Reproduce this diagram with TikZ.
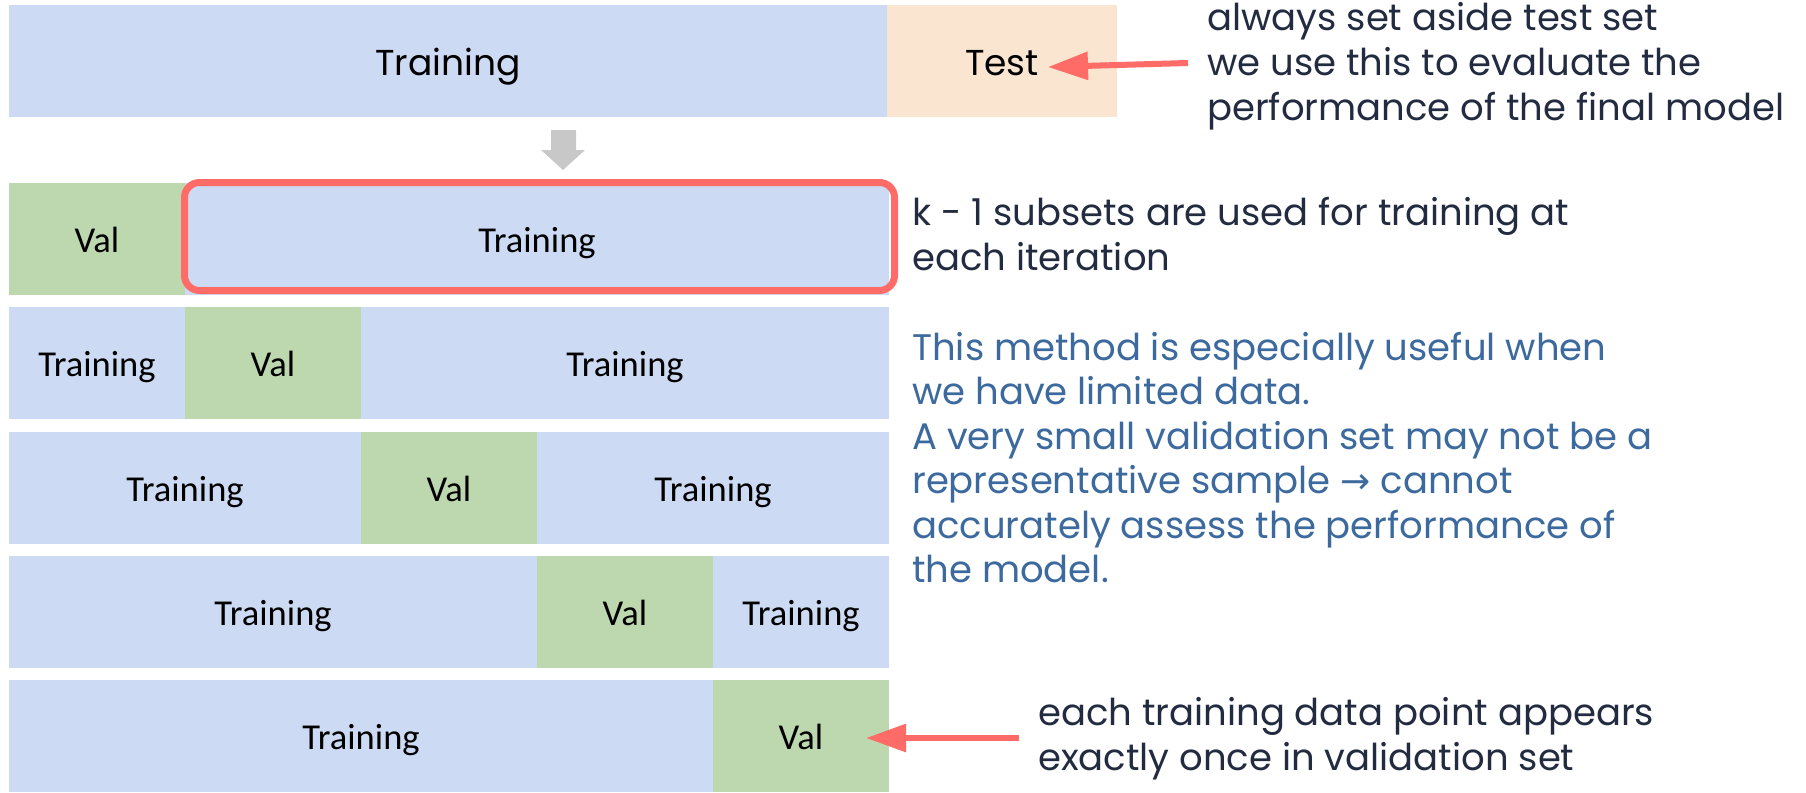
\documentclass[tikz,border=0pt]{standalone}
\usepackage{fontspec}
\newfontfamily\popfont{Poppins}
\newfontfamily\carlfont{Carlito}
\newfontfamily\djvfont{DejaVu Sans}
\usetikzlibrary{arrows.meta}
\definecolor{tblue}{HTML}{CCDAF3}
\definecolor{tgreen}{HTML}{BDD7AE}
\definecolor{tpeach}{HTML}{F9E5D0}
\definecolor{redc}{HTML}{FF6B66}
\definecolor{navy}{HTML}{222B40}
\definecolor{bluetext}{HTML}{3D6A9E}
\definecolor{grayarr}{HTML}{C8C8C8}
\begin{document}
\begin{tikzpicture}[x=1pt,y=-1pt,
  cell/.style={inner sep=0pt, outer sep=0pt, anchor=north west, minimum height=112pt,
    text height=26pt, text depth=0pt,
    font={\carlfont\fontsize{36.5}{42}\selectfont}, text=black},
  trn/.style={cell, fill=tblue},
  vl/.style={cell, fill=tgreen, minimum width=176pt},
  topcell/.style={inner sep=0pt, outer sep=0pt, anchor=north west, minimum height=112pt,
    text height=28pt, text depth=0pt,
    font={\popfont\fontsize{36}{42}\selectfont}, text=black},
  note/.style={inner sep=0pt, anchor=base west, align=left,
    font={\popfont\fontsize{37}{44.5}\selectfont}, text=navy},
  bnote/.style={note, text=bluetext},
  redarrow/.style={draw=redc, line width=6pt, -{Triangle[length=40pt,width=27pt]}},
  redbox/.style={draw=redc, line width=7pt, rounded corners=15pt}
]
\useasboundingbox (0,0) rectangle (1806,792);
\fill[white] (0,0) rectangle (1806,792);

% top bar
\node[topcell, fill=tblue, minimum width=878pt] (toptrain) at (9,5) {Training};
\node[topcell, fill=tpeach, minimum width=230pt] (toptest) at (887,5) {};
\node[inner sep=0pt, text height=28pt, text depth=0pt, font={\popfont\fontsize{36}{42}\selectfont}] (testtxt) at (1002,61) {Test};

% gray arrow
\fill[grayarr] (551,130) -- (576,130) -- (576,150) -- (585,150) -- (563,170) -- (541,150) -- (551,150) -- cycle;

% row 1
\node[vl] (r1v) at (9,183) {Val};
\node[trn, minimum width=704pt] (r1t) at (185,183) {Training};
% row 2
\node[trn, minimum width=176pt] (r2a) at (9,307) {Training};
\node[vl] (r2v) at (185,307) {Val};
\node[trn, minimum width=528pt] (r2b) at (361,307) {Training};
% row 3
\node[trn, minimum width=352pt] (r3a) at (9,432) {Training};
\node[vl] (r3v) at (361,432) {Val};
\node[trn, minimum width=352pt] (r3b) at (537,432) {Training};
% row 4
\node[trn, minimum width=528pt] (r4a) at (9,556) {Training};
\node[vl] (r4v) at (537,556) {Val};
\node[trn, minimum width=176pt] (r4b) at (713,556) {Training};
% row 5
\node[trn, minimum width=704pt] (r5a) at (9,680) {Training};
\node[vl] (r5v) at (713,680) {Val};

% red highlight box
\draw[redbox] (184.5,182.5) rectangle (894.5,290.5);

% notes (anchored at the baseline of their last line)
\node[note] (n1) at (1207,120) {always set aside test set\\we use this to evaluate the\\performance of the final model};
\node[note] (n2) at (912,270) {k - 1 subsets are used for training at\\each iteration};
\node[bnote] (n3) at (912,582.5) {This method is especially useful when\\we have limited data.\\A very small validation set may not be a\\representative sample {\djvfont\fontsize{36}{40}\selectfont→} cannot\\accurately assess the performance of\\the model.};
\node[note] (n4) at (1038,770) {each training data point appears\\exactly once in validation set};

% red arrows
\coordinate (a1) at (1188,63);
\coordinate (a1t) at (1048,67);
\draw[redarrow] (a1) -- (a1t);
\coordinate (a2) at (1019,738);
\coordinate (a2t) at (866,738);
\draw[redarrow] (a2) -- (a2t);
\end{tikzpicture}
\end{document}
